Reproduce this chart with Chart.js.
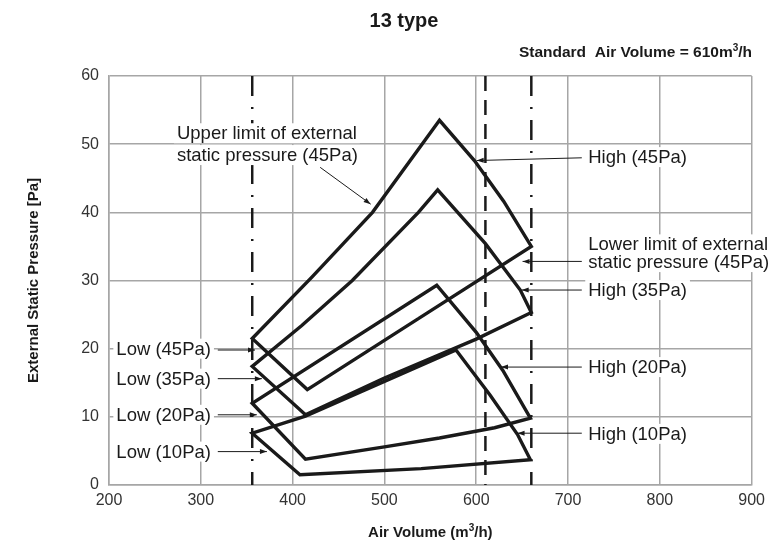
<!DOCTYPE html>
<html>
<head>
<meta charset="utf-8">
<script src="https://cdn.jsdelivr.net/npm/chart.js@4.4.1/dist/chart.umd.min.js"></script>
<style>
  html, body { margin: 0; padding: 0; background: #fff; }
</style>
</head>
<body>
<canvas id="chart" width="771" height="551"></canvas>
<script>
// each loop is traced round its outline: air volume (m3/h) and static pressure (Pa)
const loop45X = [537, 660, 630, 598, 560, 540, 487, 421, 356, 416, 537];
const loop45Y = [24.4, 35, 41.6, 47.6, 53.5, 49.8, 40, 30.5, 21.5, 14, 24.4];

const loop35X = [500, 600, 660, 648, 610, 558, 537, 465, 410, 356, 414, 500];
const loop35Y = [15.7, 21.4, 25.3, 28.6, 35.4, 43.3, 40, 30, 23.4, 17.4, 10.3, 15.7];

const loop20X = [560, 620, 659, 629, 600, 557, 356, 414, 500, 560];
const loop20Y = [6.9, 8.4, 9.8, 16.8, 22.4, 29.3, 12, 3.8, 5.6, 6.9];

const loop10X = [540, 659, 645, 615, 578, 500, 414, 356, 408, 540];
const loop10Y = [2.4, 3.7, 7.4, 13.2, 19.8, 15.2, 10.1, 7.6, 1.5, 2.4];

const limitX = [356, 660];      // dash-dot limits
const standardX = [610];        // standard air volume
const yRange = [60, 0];

const xTicks = [200, 300, 400, 500, 600, 700, 800, 900];
const yTicks = [0, 10, 20, 30, 40, 50, 60];

const ink = '#1a1a1a';
const gridColor = '#a6a6a6';
const fontFamily = '"Liberation Sans", Arial, sans-serif';

function loopSet(xs, ys) {
  return {
    data: xs.map((x, i) => ({ x: x, y: ys[i] })),
    showLine: true,
    borderColor: ink,
    borderWidth: 3.4,
    borderJoinStyle: 'miter',
    pointRadius: 0,
    tension: 0,
    fill: false
  };
}

function vLine(x, dash) {
  return {
    data: yRange.map(v => ({ x: x, y: v })),
    showLine: true,
    borderColor: ink,
    borderWidth: 2.5,
    borderDash: dash,
    pointRadius: 0,
    fill: false
  };
}

// labels and their leader arrows, in data units
const notes = [
  { lines: ['Upper limit of external', 'static pressure (45Pa)'], x: 274, y: [51.6, 48.4] },
  { lines: ['High (45Pa)'], x: 722, y: [48.1] },
  { lines: ['Lower limit of external', 'static pressure (45Pa)'], x: 722, y: [35.3, 32.7] },
  { lines: ['High (35Pa)'], x: 722, y: [28.6] },
  { lines: ['High (20Pa)'], x: 722, y: [17.3] },
  { lines: ['High (10Pa)'], x: 722, y: [7.5] },
  { lines: ['Low (45Pa)'], x: 208, y: [20.0] },
  { lines: ['Low (35Pa)'], x: 208, y: [15.6] },
  { lines: ['Low (20Pa)'], x: 208, y: [10.3] },
  { lines: ['Low (10Pa)'], x: 208, y: [4.9] }
];

const arrows = [
  { from: [430, 46.6], to: [485, 41.2] },
  { from: [715, 48.0], to: [600.5, 47.6] },
  { from: [715, 32.8], to: [650.5, 32.8] },
  { from: [715, 28.6], to: [649.5, 28.6] },
  { from: [715, 17.3], to: [627, 17.3] },
  { from: [715, 7.6], to: [645, 7.6] },
  { from: [318.5, 19.8], to: [359, 19.8] },
  { from: [318.5, 15.6], to: [366.5, 15.6] },
  { from: [318.5, 10.3], to: [361, 10.3] },
  { from: [318.5, 4.9], to: [372, 4.9] }
];

// text with a raised "3"
function drawRich(ctx, parts, x, y, size, align) {
  const big = 'bold ' + size + 'px ' + fontFamily;
  const small = 'bold ' + Math.round(size * 0.65) + 'px ' + fontFamily;
  let total = 0;
  parts.forEach(p => { ctx.font = p.sup ? small : big; total += ctx.measureText(p.t).width; });
  let cx = align === 'right' ? x - total : align === 'center' ? x - total / 2 : x;
  ctx.textAlign = 'left';
  ctx.textBaseline = 'alphabetic';
  parts.forEach(p => {
    ctx.font = p.sup ? small : big;
    ctx.fillText(p.t, cx, p.sup ? y - size * 0.4 : y);
    cx += ctx.measureText(p.t).width;
  });
}

const notesPlugin = {
  id: 'notes',
  afterDatasetsDraw(chart) {
    const ctx = chart.ctx;
    const xs = chart.scales.x, ys = chart.scales.y;
    ctx.save();
    ctx.font = '18.5px ' + fontFamily;
    ctx.textBaseline = 'middle';
    ctx.textAlign = 'left';
    notes.forEach(n => n.lines.forEach((t, i) => {
      const px = xs.getPixelForValue(n.x), py = ys.getPixelForValue(n.y[i]);
      const w = ctx.measureText(t).width;
      ctx.fillStyle = '#fff';
      ctx.fillRect(px - 3, py - 10, w + 6, 20);
    }));
    ctx.fillStyle = ink;
    notes.forEach(n => n.lines.forEach((t, i) => {
      ctx.fillText(t, xs.getPixelForValue(n.x), ys.getPixelForValue(n.y[i]) + 1);
    }));

    ctx.strokeStyle = ink;
    ctx.lineWidth = 1;
    arrows.forEach(a => {
      const x1 = xs.getPixelForValue(a.from[0]), y1 = ys.getPixelForValue(a.from[1]);
      const x2 = xs.getPixelForValue(a.to[0]), y2 = ys.getPixelForValue(a.to[1]);
      const ang = Math.atan2(y2 - y1, x2 - x1);
      ctx.beginPath();
      ctx.moveTo(x1, y1);
      ctx.lineTo(x2, y2);
      ctx.stroke();
      ctx.beginPath();
      ctx.moveTo(x2, y2);
      ctx.lineTo(x2 - 7 * Math.cos(ang) + 2.5 * Math.sin(ang), y2 - 7 * Math.sin(ang) - 2.5 * Math.cos(ang));
      ctx.lineTo(x2 - 7 * Math.cos(ang) - 2.5 * Math.sin(ang), y2 - 7 * Math.sin(ang) + 2.5 * Math.cos(ang));
      ctx.closePath();
      ctx.fill();
    });

    // titles
    const area = chart.chartArea;
    drawRich(ctx, [{ t: '13 type' }], 404, 27, 20, 'center');
    drawRich(ctx, [{ t: 'Standard  Air Volume = 610m' }, { t: '3', sup: true }, { t: '/h' }], 752, 57, 15.5, 'right');
    drawRich(ctx, [{ t: 'Air Volume (m' }, { t: '3', sup: true }, { t: '/h)' }], (area.left + area.right) / 2, 537, 15, 'center');
    ctx.save();
    ctx.translate(38, (area.top + area.bottom) / 2);
    ctx.rotate(-Math.PI / 2);
    drawRich(ctx, [{ t: 'External Static Pressure [Pa]' }], 0, 0, 15, 'center');
    ctx.restore();
    ctx.restore();
  }
};

const datasets = [
  ...limitX.map(x => vLine(x, [20, 11, 2, 11])),
  ...standardX.map(x => vLine(x, [15, 9])),
  loopSet(loop45X, loop45Y),
  loopSet(loop35X, loop35Y),
  loopSet(loop20X, loop20Y),
  loopSet(loop10X, loop10Y)
];

new Chart(document.getElementById('chart'), {
  type: 'scatter',
  data: { datasets: datasets },
  options: {
    responsive: false,
    animation: false,
    layout: { padding: { top: 76, right: 13, left: 0, bottom: 0 } },
    plugins: { legend: { display: false }, tooltip: { enabled: false } },
    scales: {
      x: {
        type: 'linear',
        min: xTicks[0],
        max: xTicks[xTicks.length - 1],
        afterBuildTicks: s => { s.ticks = xTicks.map(v => ({ value: v })); },
        afterFit: s => { s.height = 66; },
        ticks: { color: '#333', font: { family: fontFamily, size: 16 }, padding: 6, maxRotation: 0 },
        grid: { color: gridColor, lineWidth: 1.5, drawTicks: false },
        border: { color: gridColor, width: 1.5 }
      },
      y: {
        min: yTicks[0],
        max: yTicks[yTicks.length - 1],
        afterBuildTicks: s => { s.ticks = yTicks.map(v => ({ value: v })); },
        afterFit: s => { s.width = 109; },
        ticks: { color: '#333', font: { family: fontFamily, size: 16 }, padding: 10 },
        grid: { color: gridColor, lineWidth: 1.5, drawTicks: false },
        border: { color: gridColor, width: 1.5 }
      }
    }
  },
  plugins: [notesPlugin]
});
</script>
</body>
</html>
